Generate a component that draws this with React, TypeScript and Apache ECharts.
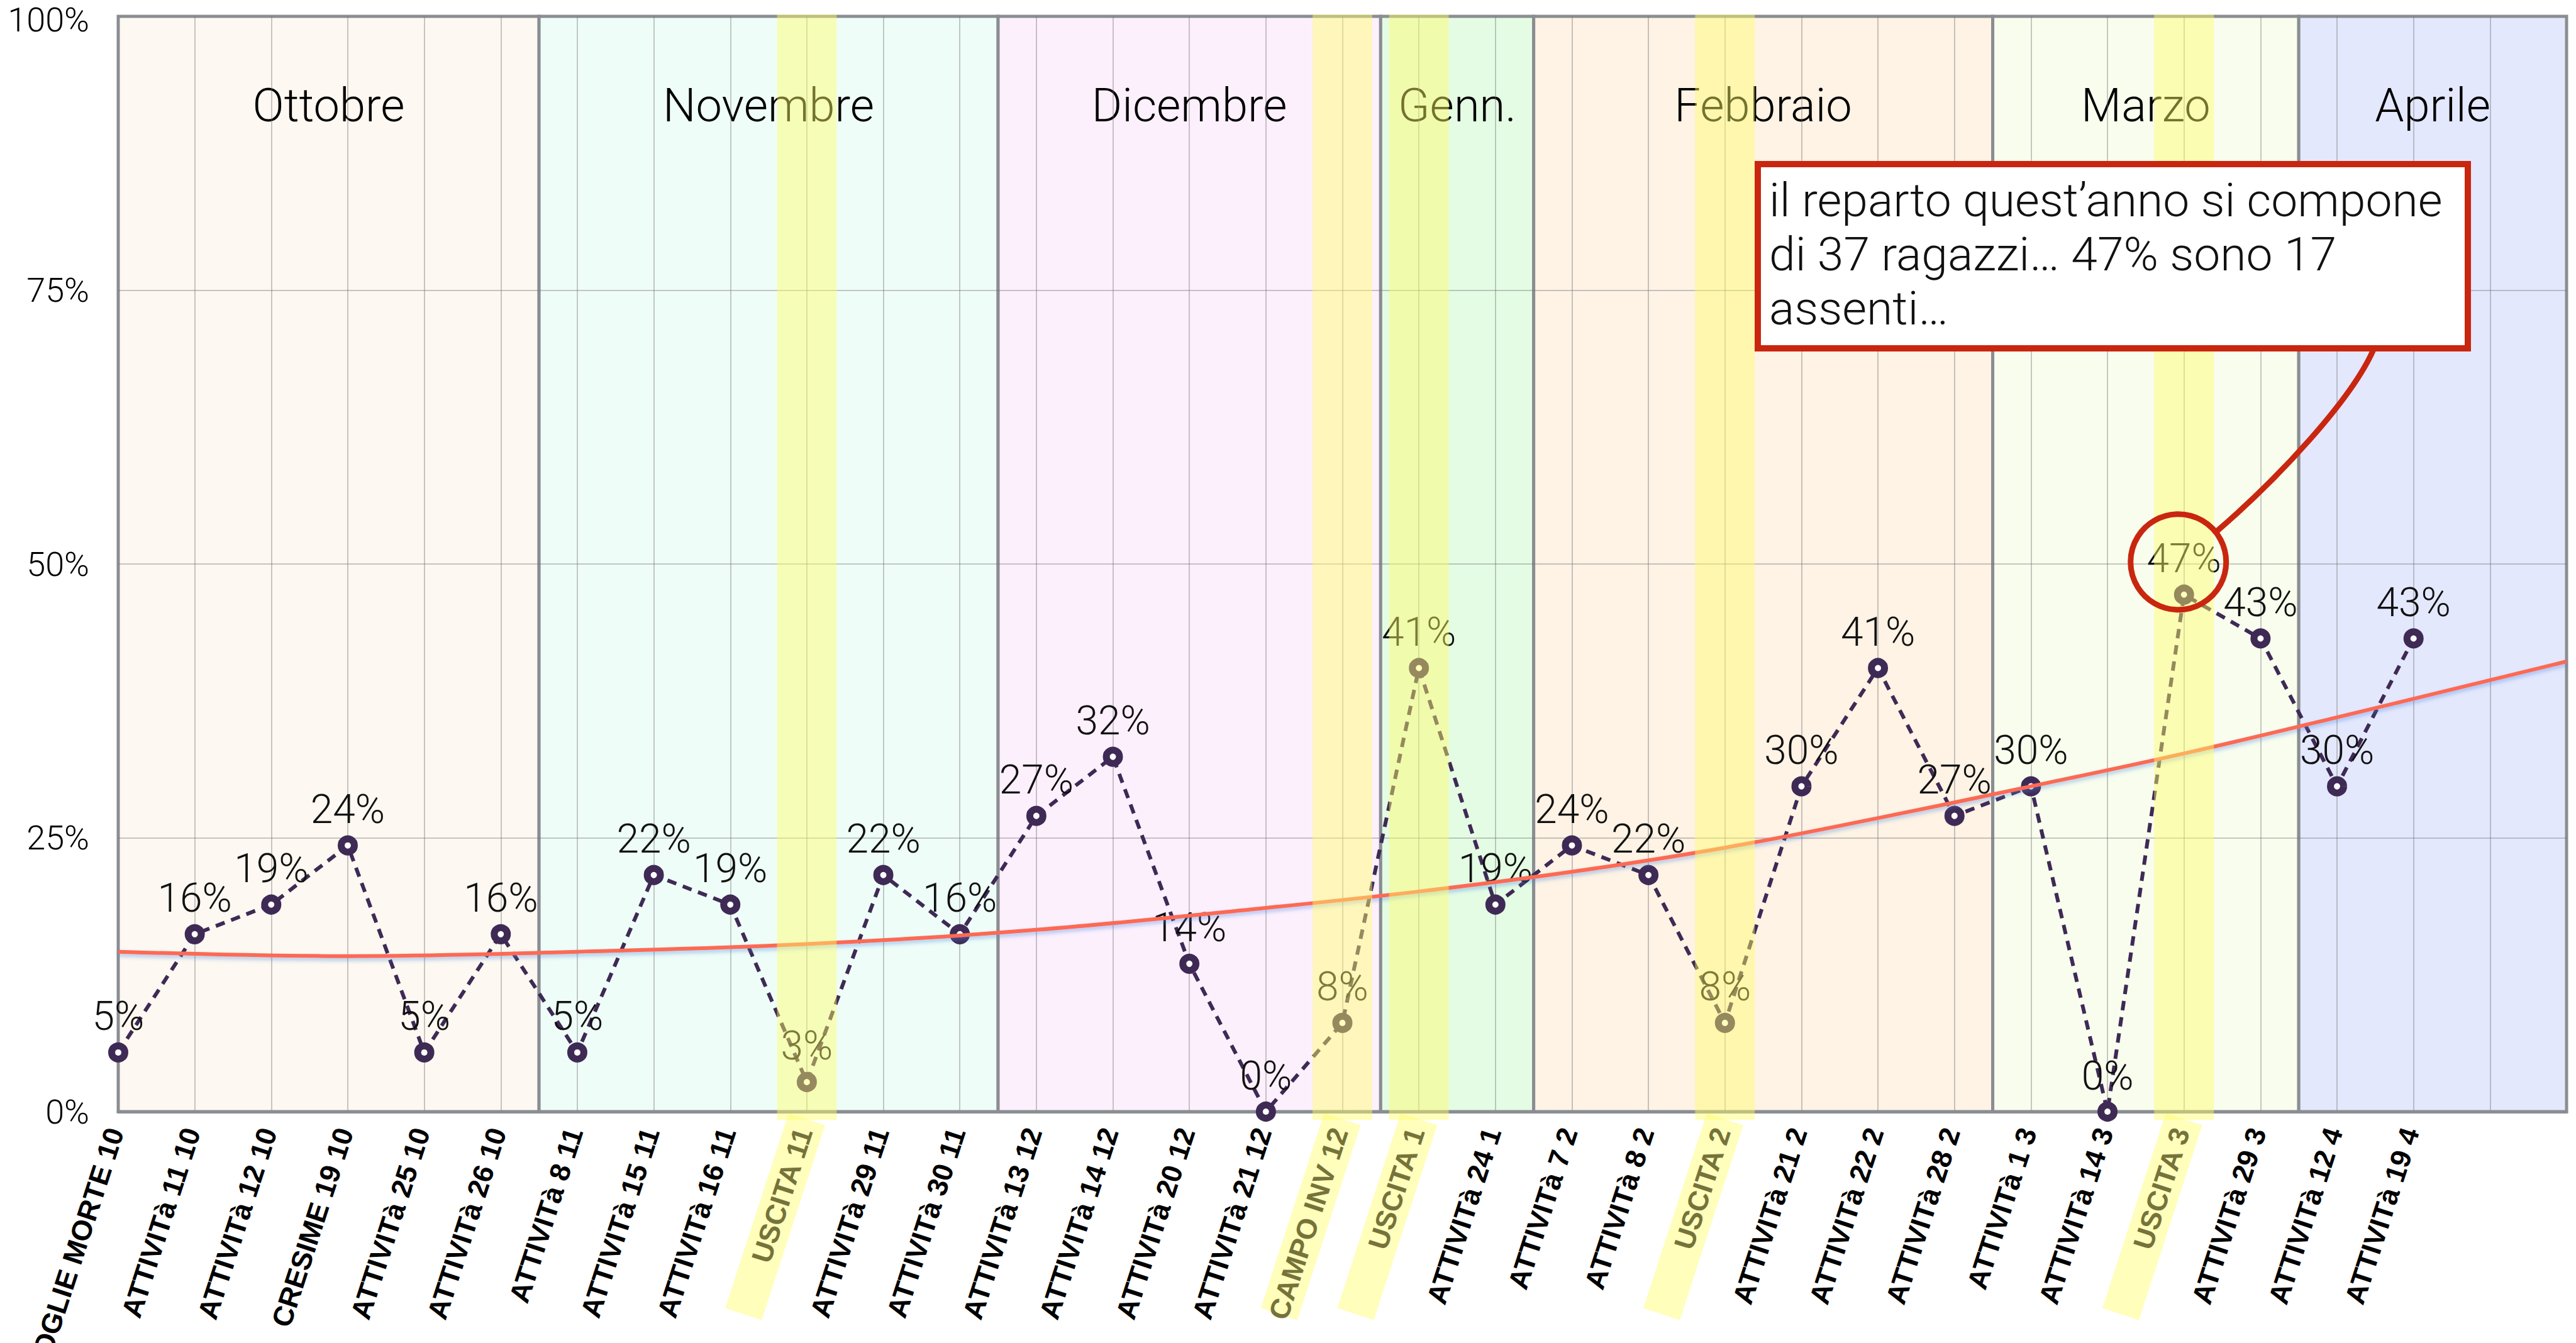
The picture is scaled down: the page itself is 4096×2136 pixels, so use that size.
import React, { useEffect, useRef } from 'react';
import * as echarts from 'echarts';

// ---------------- DATA ----------------
const categories = [
  'FOGLIE MORTE 10', 'ATTIVITà 11 10', 'ATTIVITà 12 10', 'CRESIME 19 10', 'ATTIVITà 25 10',
  'ATTIVITà 26 10', 'ATTIVITà 8 11', 'ATTIVITà 15 11', 'ATTIVITà 16 11', 'USCITA 11',
  'ATTIVITà 29 11', 'ATTIVITà 30 11', 'ATTIVITà 13 12', 'ATTIVITà 14 12', 'ATTIVITà 20 12',
  'ATTIVITà 21 12', 'CAMPO INV 12', 'USCITA 1', 'ATTIVITà 24 1', 'ATTIVITà 7 2',
  'ATTIVITà 8 2', 'USCITA 2', 'ATTIVITà 21 2', 'ATTIVITà 22 2', 'ATTIVITà 28 2',
  'ATTIVITà 1 3', 'ATTIVITà 14 3', 'USCITA 3', 'ATTIVITà 29 3', 'ATTIVITà 12 4',
  'ATTIVITà 19 4', '', ''
];

// percentage of absent members at each meeting
const absences = [
  5.4, 16.2, 18.9, 24.3, 5.4, 16.2, 5.4, 21.6, 18.9, 2.7,
  21.6, 16.2, 27.0, 32.4, 13.5, 0, 8.1, 40.5, 18.9, 24.3,
  21.6, 8.1, 29.7, 40.5, 27.0, 29.7, 0, 47.2, 43.2, 29.7,
  43.2
];

// trend line (x = category position, y = %)
const trendX = [0, 3, 6, 9, 12, 15, 17, 19, 21, 23, 25, 27, 29, 32];
const trendY = [14.6, 14.2, 14.6, 15.3, 16.6, 18.6, 20.1, 21.9, 24.1, 26.8, 29.7, 32.7, 36.0, 41.1];

// months (band start / end in category positions)
const monthNames = ['Ottobre', 'Novembre', 'Dicembre', 'Genn.', 'Febbraio', 'Marzo', 'Aprile'];
const monthStart = [0, 5.5, 11.5, 16.5, 18.5, 24.5, 28.5];
const monthEnd = [5.5, 11.5, 16.5, 18.5, 24.5, 28.5, 32];
const monthColors = ['#fdf8f1', '#effdf8', '#fdf0fd', '#e4fce4', '#fef3e5', '#f8fdee', '#e4e8fd'];

// highlighted (outing / camp) categories
const highlightIdx = [9, 16, 17, 21, 27];

const yTicks = [0, 25, 50, 75, 100];

const calloutText = 'il reparto quest’anno si compone\ndi 37 ragazzi… 47% sono 17\nassenti…';
const calloutIdx = 27;

// ---------------- STYLE ----------------
const LIGHT = 'Roboto, "Liberation Sans", sans-serif';
const BOLD = '"Liberation Sans", Arial, sans-serif';
const HL = 'rgba(255,252,105,0.45)';
const BORDER = '#8a8d92';
const RED = '#c9260f';

export default function App() {
  const ref = useRef<HTMLDivElement>(null);

  useEffect(() => {
    if (!ref.current) return;
    const chart = echarts.init(ref.current, undefined, { renderer: 'svg' });
    const lastCat = categories.length - 1;
    const yMax = yTicks[yTicks.length - 1];

    const option: any = {
      animation: false,
      backgroundColor: '#ffffff',
      grid: {
        left: 188, right: 15, top: 26, bottom: 368,
        containLabel: false, outerBoundsMode: 'none',
      },
      xAxis: [
        {
          type: 'category',
          data: categories,
          boundaryGap: false,
          z: 3,
          axisLine: { show: true, lineStyle: { color: BORDER, width: 5 } },
          axisTick: { show: false },
          splitLine: {
            show: true,
            interval: (i: number) => i > 0 && i < lastCat,
            lineStyle: { color: 'rgba(110,110,110,0.38)', width: 2 },
          },
          axisLabel: {
            interval: 0,
            rotate: 72,
            margin: 12,
            hideOverlap: false,
            formatter: (v: string, i: number) => {
              if (!v) return '';
              return highlightIdx.indexOf(i) >= 0 ? `{hl|${v}}` : `{n|${v}}`;
            },
            rich: {
              n: {
                fontFamily: BOLD, fontWeight: 'bold', fontSize: 45, color: '#000',
                lineHeight: 46, padding: [8, 16, 8, 0],
              },
              hl: {
                fontFamily: BOLD, fontWeight: 'bold', fontSize: 45, color: '#76733a',
                lineHeight: 46, padding: [8, 16, 8, 0], width: 310, align: 'right',
                backgroundColor: HL,
              },
            },
          },
        },
        { type: 'value', min: 0, max: lastCat, show: false },
      ],
      yAxis: {
        type: 'value',
        min: 0,
        max: yMax,
        interval: 25,
        z: 3,
        axisLine: { show: false },
        axisTick: { show: false },
        axisLabel: {
          formatter: (v: number) => {
            if (yTicks.indexOf(v) < 0) return '';
            return v === yMax ? `{t|${v}%}` : `{v|${v}%}`;
          },
          margin: 46,
          rich: {
            t: {
              fontSize: 54, color: '#000', fontFamily: LIGHT, fontWeight: 300,
              lineHeight: 40, padding: [10, 0, 0, 0],
            },
            v: {
              fontSize: 54, color: '#000', fontFamily: LIGHT, fontWeight: 300,
              lineHeight: 54,
            },
          },
        },
        splitLine: {
          show: true, showMinLine: false, showMaxLine: false,
          lineStyle: { color: 'rgba(110,110,110,0.38)', width: 2 },
        },
      },
      series: [
        {
          type: 'custom',
          name: 'months',
          xAxisIndex: 1,
          yAxisIndex: 0,
          z: 1,
          silent: true,
          data: monthStart.map((s, i) => [s, monthEnd[i], 0]),
          encode: { x: [0, 1], y: 2 },
          renderItem: (params: any, api: any) => {
            const i = params.dataIndex;
            const p0 = api.coord([api.value(0), 100]);
            const p1 = api.coord([api.value(1), 0]);
            return {
              type: 'group',
              children: [
                {
                  type: 'rect',
                  shape: { x: p0[0], y: p0[1], width: p1[0] - p0[0], height: p1[1] - p0[1] },
                  style: { fill: monthColors[i], stroke: BORDER, lineWidth: 5 },
                },
                {
                  type: 'text',
                  style: {
                    text: monthNames[i], x: (p0[0] + p1[0]) / 2, y: p0[1] + 141,
                    align: 'center', verticalAlign: 'middle',
                    fontSize: 74, fontFamily: LIGHT, fontWeight: 300, fill: '#000',
                  },
                },
              ],
            };
          },
        },
        {
          type: 'line',
          name: 'assenti',
          xAxisIndex: 0,
          yAxisIndex: 0,
          z: 4,
          data: absences,
          symbol: 'circle',
          symbolSize: 21,
          itemStyle: { color: '#ffffff', borderColor: '#3e2a55', borderWidth: 11 },
          lineStyle: { color: '#3e2a55', width: 6, type: [15, 11] },
          label: {
            show: true, position: 'top', distance: 9,
            formatter: (p: any) => `${Math.round(p.value)}%`,
            fontSize: 64, fontFamily: LIGHT, fontWeight: 300, color: '#111',
          },
        },
        {
          type: 'line',
          name: 'tendenza',
          xAxisIndex: 1,
          yAxisIndex: 0,
          z: 5,
          smooth: 0.4,
          symbol: 'none',
          silent: true,
          data: trendX.map((x, i) => [x, trendY[i]]),
          lineStyle: {
            color: '#fc6a52', width: 6,
            shadowColor: 'rgba(70,130,220,0.45)', shadowBlur: 6, shadowOffsetY: 4,
          },
        },
        {
          type: 'custom',
          name: 'uscite',
          xAxisIndex: 1,
          yAxisIndex: 0,
          z: 10,
          silent: true,
          data: highlightIdx.map((v) => [v, 0]),
          encode: { x: 0, y: 1 },
          renderItem: (params: any, api: any) => {
            const x = api.value(0);
            const p0 = api.coord([x - 0.39, 100]);
            const p1 = api.coord([x + 0.39, 0]);
            return {
              type: 'rect',
              shape: { x: p0[0], y: p0[1] - 3, width: p1[0] - p0[0], height: p1[1] - p0[1] + 16 },
              style: { fill: HL },
            };
          },
        },
      ],
    };

    chart.setOption(option);

    // callout annotation anchored on the 47% point
    const pt = chart.convertToPixel({ xAxisIndex: 1, yAxisIndex: 0 }, [calloutIdx, absences[calloutIdx]]) as number[];
    const cx = pt[0] - 9;
    const cy = pt[1] - 52;
    const r = 76;
    const box = { x: 2795, y: 261, w: 1129, h: 293 };
    const sx = cx + 59;
    const sy = cy - 47;
    const ex = 3774;
    const ey = box.y + box.h + 2;

    chart.setOption({
      graphic: [
        {
          type: 'circle', z: 100, silent: true,
          shape: { cx, cy, r },
          style: { fill: 'none', stroke: RED, lineWidth: 9 },
        },
        {
          type: 'bezierCurve', z: 100, silent: true,
          shape: {
            x1: sx, y1: sy, x2: ex, y2: ey,
            cpx1: sx + 100, cpy1: sy - 86, cpx2: ex - 35, cpy2: ey + 80,
          },
          style: { fill: 'none', stroke: RED, lineWidth: 9 },
        },
        {
          type: 'rect', z: 100, silent: true,
          shape: { x: box.x, y: box.y, width: box.w, height: box.h },
          style: { fill: '#ffffff', stroke: RED, lineWidth: 10 },
        },
        {
          type: 'text', z: 101, silent: true,
          x: box.x + 18, y: box.y + 14,
          style: {
            text: calloutText, fontSize: 75, lineHeight: 86, fontFamily: LIGHT, fontWeight: 300,
            fill: '#111', align: 'left', verticalAlign: 'top',
          },
        },
      ],
    });

    return () => chart.dispose();
  }, []);

  return (
    <div
      ref={ref}
      style={{ position: 'absolute', left: 0, top: 0, width: 4096, height: 2136 }}
    />
  );
}
